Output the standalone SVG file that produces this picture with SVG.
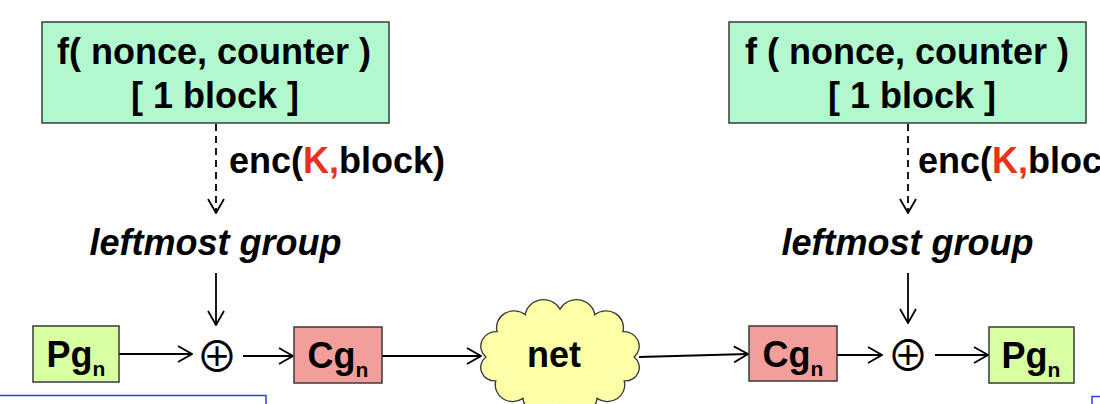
<svg xmlns="http://www.w3.org/2000/svg" width="1100" height="404" viewBox="0 0 1100 404">
<defs>
<style>
.t{font-family:"Liberation Sans",Arial,sans-serif;font-weight:bold;font-size:36px;fill:#000}
.i{font-style:italic}
.box{stroke:#3a3a3a;stroke-width:1.5}
.f{fill:#b2f8cf}
.p{fill:#d8ffa2}
.c{fill:#f29f9c}
.ln{stroke:#000;stroke-width:1.8;fill:none}
.d{stroke-dasharray:7 5}
.x{font-family:"Noto Sans CJK SC","DejaVu Sans",sans-serif;font-weight:400;font-size:42px;fill:#000}
.k{fill:#e8321e}
</style>
<marker id="ah" viewBox="0 0 16 18" refX="15" refY="9" markerWidth="16" markerHeight="18" markerUnits="userSpaceOnUse" orient="auto">
<path d="M1,1 L15,9 L1,17" fill="none" stroke="#000" stroke-width="1.8"/>
</marker>
</defs>
<g id="connectors">
<path class="ln d" d="M216,124 V213" marker-end="url(#ah)"/>
<path class="ln" d="M216,273 V325" marker-end="url(#ah)"/>
<path class="ln" d="M119,354 H192" marker-end="url(#ah)"/>
<path class="ln" d="M243,356 H293" marker-end="url(#ah)"/>
<path class="ln" d="M382,356 H481" marker-end="url(#ah)"/>
<path class="ln" d="M639,357 L748,354" marker-end="url(#ah)"/>
<path class="ln d" d="M908,124 V213" marker-end="url(#ah)"/>
<path class="ln" d="M908,273 V323" marker-end="url(#ah)"/>
<path class="ln" d="M837,355 H882" marker-end="url(#ah)"/>
<path class="ln" d="M935,355 H988" marker-end="url(#ah)"/>
</g>
<g id="f-left">
<rect class="box f" x="42" y="22" width="347" height="101"/>
<text class="t" text-anchor="middle" x="214" y="64">f( nonce, counter )</text>
<text class="t" text-anchor="middle" x="215" y="108">[ 1 block ]</text>
</g>
<g id="enc-left">
<text class="t" x="229" y="173">enc(<tspan class="k">K,</tspan>block)</text>
</g>
<g id="group-left">
<text class="t i" text-anchor="middle" x="215.5" y="255">leftmost group</text>
</g>
<g id="pg-left">
<rect class="box p" x="33" y="326" width="86" height="56"/>
<text class="t" text-anchor="middle" x="76" y="367">Pg<tspan font-size="21" dy="9">n</tspan></text>
</g>
<g id="xor-left">
<text class="x" text-anchor="middle" x="217" y="372">⊕</text>
</g>
<g id="cg-left">
<rect class="box c" x="294" y="327" width="88" height="56"/>
<text class="t" text-anchor="middle" x="338" y="368">Cg<tspan font-size="21" dy="9">n</tspan></text>
</g>
<g id="net">
<path transform="translate(560,357) scale(1.09,1.04) translate(-560,-357)" d="M492,357 A14,14 0 0 1 502.3,332.6 A16,16 0 0 1 528.1,316.4 A17,17 0 0 1 560,311 A17,17 0 0 1 591.9,316.4 A16,16 0 0 1 617.7,332.6 A14,14 0 0 1 628,357 A13,13 0 0 1 618.9,380 A16,16 0 0 1 594,396.8 A18,18 0 0 1 560,403 A18,18 0 0 1 526,396.8 A16,16 0 0 1 501.1,380 A13,13 0 0 1 492,357 Z" fill="#ffffa8" stroke="#3a3a3a" stroke-width="1.25"/>
<text class="t" text-anchor="middle" x="554" y="367">net</text>
</g>
<g id="f-right">
<rect class="box f" x="729" y="22" width="357" height="101"/>
<text class="t" text-anchor="middle" x="907" y="64">f ( nonce, counter )</text>
<text class="t" text-anchor="middle" x="912" y="108">[ 1 block ]</text>
</g>
<g id="enc-right">
<text class="t" x="918" y="173">enc(<tspan class="k">K,</tspan>block)</text>
</g>
<g id="group-right">
<text class="t i" text-anchor="middle" x="907.5" y="255">leftmost group</text>
</g>
<g id="cg-right">
<rect class="box c" x="749" y="326" width="88" height="55"/>
<text class="t" text-anchor="middle" x="793" y="367">Cg<tspan font-size="21" dy="9">n</tspan></text>
</g>
<g id="xor-right">
<text class="x" text-anchor="middle" x="908" y="371">⊕</text>
</g>
<g id="pg-right">
<rect class="box p" x="989" y="327" width="85" height="56"/>
<text class="t" text-anchor="middle" x="1031" y="368">Pg<tspan font-size="21" dy="9">n</tspan></text>
</g>
<g id="frames">
<path d="M0,395.5 H266 V404" fill="none" stroke="#3a3af0" stroke-width="1.5"/>
<path d="M1092,404 V396.5 H1100" fill="none" stroke="#3a3af0" stroke-width="1.5"/>
</g>
</svg>
